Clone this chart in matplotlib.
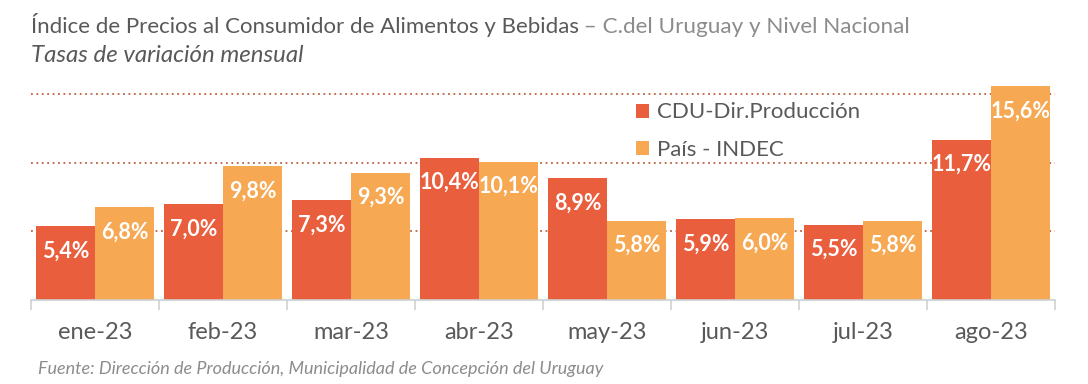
import numpy as np
import matplotlib as mpl
import matplotlib.pyplot as plt

plt.switch_backend('agg')
plt.rcParams['font.family'] = ['Lato', 'DejaVu Sans']

# datos
meses = ['ene-23', 'feb-23', 'mar-23', 'abr-23', 'may-23', 'jun-23', 'jul-23', 'ago-23']
cdu = [5.4, 7.0, 7.3, 10.4, 8.9, 5.9, 5.5, 11.7]
indec = [6.8, 9.8, 9.3, 10.1, 5.8, 6.0, 5.8, 15.6]
series_names = ['CDU-Dir.Producción', 'País - INDEC']

col_cdu = '#E95E3C'
col_indec = '#F6A852'
gris = '#595959'

fig = plt.figure(figsize=(10.88, 3.84), dpi=100)
ax = fig.add_axes([0.0285, 0.21875, 0.9412, 0.578])

x = np.arange(len(meses))
w = 0.46
b1 = ax.bar(x - w / 2, cdu, w, color=col_cdu, label=series_names[0], zorder=2)
b2 = ax.bar(x + w / 2, indec, w, color=col_indec, label=series_names[1], zorder=2)

# etiquetas dentro de las barras
for bars, vals in [(b1, cdu), (b2, indec)]:
    for r, v in zip(bars, vals):
        ax.annotate(f'{v:.1f}%'.replace('.', ','),
                    (r.get_x() + r.get_width() / 2, v),
                    xytext=(0, -18), textcoords='offset points',
                    ha='center', va='center', color='white',
                    fontsize=15.5, fontweight='bold', zorder=3)

ax.set_xlim(-0.5, len(meses) - 0.5)
ax.set_ylim(0, 16.2)
for g in [5, 10, 15]:
    ax.axhline(g, color='#C0603F', lw=1.3, ls=(0, (1, 2)), zorder=1)

for s in ['top', 'right', 'left']:
    ax.spines[s].set_visible(False)
ax.spines['bottom'].set_color('#D0D0D0')
ax.spines['bottom'].set_linewidth(1.2)
ax.set_yticks([])
ax.set_xticks(x)
ax.set_xticklabels(meses, fontsize=17, color=gris)
ax.tick_params(axis='x', which='major', length=0, pad=16)
ax.set_xticks(np.arange(-0.5, len(meses)), minor=True)
ax.tick_params(axis='x', which='minor', length=7, color='#D0D0D0', width=1.2)

leg = ax.legend(loc='upper left', bbox_to_anchor=(0.582, 0.93), frameon=False,
                fontsize=16, handlelength=0.6, handleheight=0.6,
                handletextpad=0.35, labelspacing=0.8, borderaxespad=0)
for t in leg.get_texts():
    t.set_color(gris)

# títulos
fig.text(31 / 1088, 1 - 33 / 384, 'Índice de Precios al Consumidor de Alimentos y Bebidas',
         fontsize=16, color=gris, va='baseline', ha='left')
fig.text(578 / 1088, 1 - 33 / 384, ' – C.del Uruguay y Nivel Nacional',
         fontsize=16.2, color='#8C8C8C', va='baseline', ha='left')
fig.text(31 / 1088, 1 - 62 / 384, 'Tasas de variación mensual',
         fontsize=17.3, color=gris, style='italic', va='baseline', ha='left')
fig.text(38 / 1088, 1 - 374 / 384,
         'Fuente: Dirección de Producción, Municipalidad de Concepción del Uruguay',
         fontsize=13, color='#8C8C8C', style='italic', va='baseline', ha='left')

plt.savefig('out.png', dpi=100)
